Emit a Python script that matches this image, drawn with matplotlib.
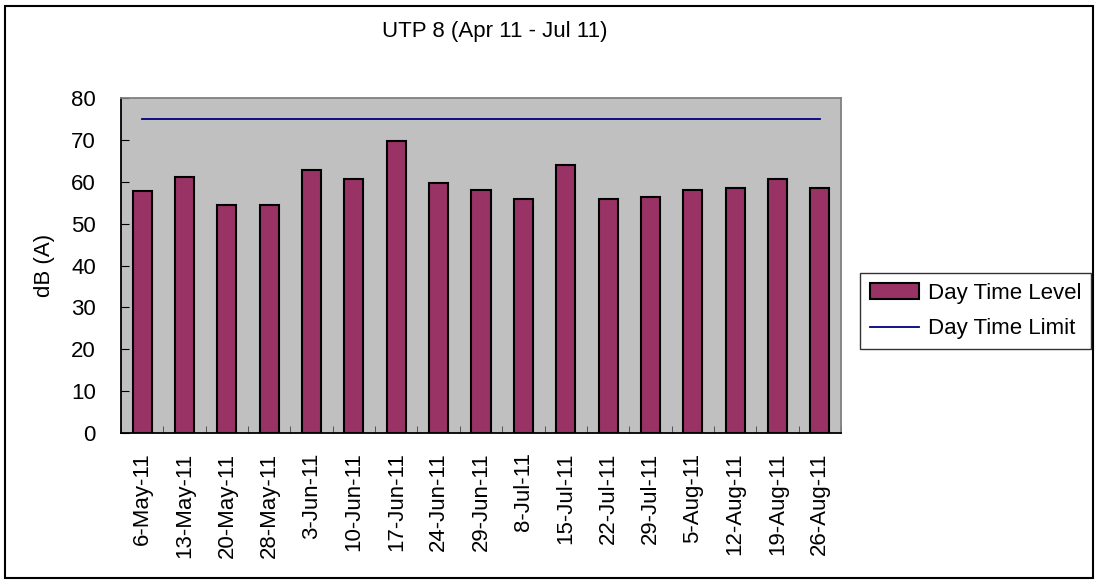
import matplotlib.pyplot as plt
import numpy as np
from matplotlib.patches import Rectangle

plt.rcParams['font.family'] = ['Liberation Sans', 'DejaVu Sans']

# Datos del gráfico
fechas = ["6-May-11", "13-May-11", "20-May-11", "28-May-11", "3-Jun-11", "10-Jun-11",
          "17-Jun-11", "24-Jun-11", "29-Jun-11", "8-Jul-11", "15-Jul-11", "22-Jul-11",
          "29-Jul-11", "5-Aug-11", "12-Aug-11", "19-Aug-11", "26-Aug-11"]
nivel_dia = [57.7, 61.1, 54.5, 54.5, 62.8, 60.7, 69.7, 59.8, 58.1, 56.0, 64.1, 56.0,
             56.4, 58.1, 58.5, 60.7, 58.5]
limite_dia = [75] * len(fechas)

W, H = 1097, 581
fs = 16
fig = plt.figure(figsize=(W / 100, H / 100), dpi=100)
ax = fig.add_axes([121 / W, 1 - 433 / H, (841 - 121) / W, (433 - 98) / H])

x = np.arange(len(fechas))
barras = ax.bar(x, nivel_dia, width=0.45, color="#993366", edgecolor="black", linewidth=1.5,
                label="Day Time Level", zorder=2)
linea, = ax.plot(x, limite_dia, color="#000080", linewidth=1.3, label="Day Time Limit", zorder=3)

ax.set_facecolor("#C0C0C0")
ax.set_xlim(-0.5, len(fechas) - 0.5)
ax.set_ylim(0, 80)
ax.set_yticks(range(0, 81, 10))
ax.set_xticks(x)
ax.set_xticklabels(fechas, rotation=90, fontsize=fs)
ax.tick_params(axis="x", length=0, pad=14)
ax.set_xticks(np.arange(-0.5, len(fechas), 1), minor=True)
ax.tick_params(axis="x", which="minor", direction="in", length=5, color="#404040")
ax.tick_params(axis="y", direction="in", length=6, labelsize=fs, pad=18)
for s in ["left", "bottom"]:
    ax.spines[s].set_color("black")
    ax.spines[s].set_linewidth(1.3)
for s in ["top", "right"]:
    ax.spines[s].set_color("#808080")
    ax.spines[s].set_linewidth(1.3)

ax.set_ylabel("dB (A)", fontsize=fs)
ax.yaxis.set_label_coords((55 - 121) / 720, 0.5)
fig.text(495 / W, 1 - 31 / H, "UTP 8 (Apr 11 - Jul 11)", ha="center", va="center", fontsize=fs)

leg = fig.legend([barras, linea], ["Day Time Level", "Day Time Limit"],
                 loc="upper left", bbox_to_anchor=(860 / W, 1 - 273 / H),
                 fontsize=fs, frameon=True, fancybox=False, edgecolor="black",
                 handlelength=2.2, handletextpad=0.4, borderpad=0.45,
                 labelspacing=0.65, borderaxespad=0)
leg.get_frame().set_linewidth(1.0)

fig.patches.append(Rectangle((5 / W, 3 / H), (1093 - 5) / W, (575 - 3) / H,
                             transform=fig.transFigure, fill=False,
                             edgecolor="black", linewidth=1.5))

fig.savefig("out.png", dpi=100)
